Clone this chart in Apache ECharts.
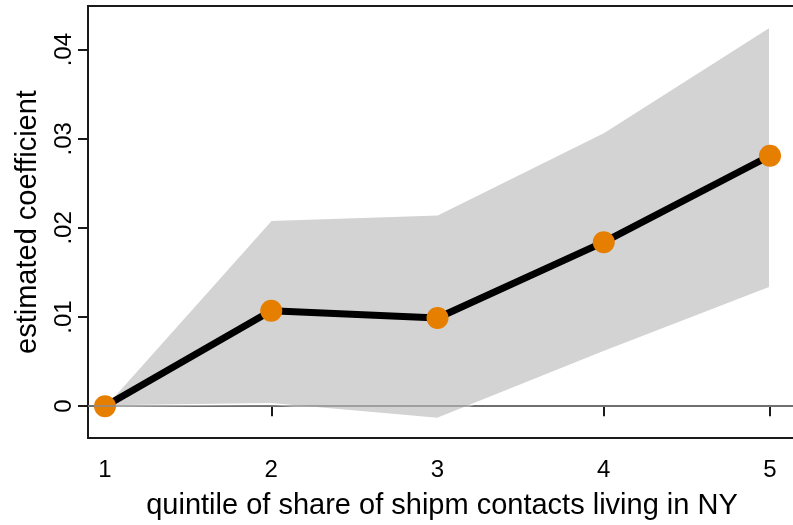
<!DOCTYPE html>
<html>
<head>
<meta charset="utf-8">
<script src="https://cdn.jsdelivr.net/npm/echarts@6/dist/echarts.min.js"></script>
<style>html,body{margin:0;padding:0;background:#fff;overflow:hidden}#c{width:800px;height:525px}</style>
</head>
<body>
<div id="c"></div>
<script>
const quintiles = [1, 2, 3, 4, 5];
const coef = [0, 0.0107, 0.0099, 0.0184, 0.0281];
const ciUpper = [0, 0.0209, 0.0215, 0.03075, 0.0426];
const ciLower = [0, 0.00025, -0.0014, 0.0061, 0.0133];
const yTicks = [0, 0.01, 0.02, 0.03, 0.04];
const xTicks = [1, 2, 3, 4, 5];

const FONT = 'Liberation Sans, Arial, sans-serif';
const chart = echarts.init(document.getElementById('c'));

const bandData = quintiles.map((q, i) => [q, ciLower[i], ciUpper[i]]);

chart.setOption({
  animation: false,
  grid: { left: 88, right: 4, top: 6, bottom: 84, show: true, borderColor: '#1a1a1a', borderWidth: 2, backgroundColor: '#fff' },
  xAxis: {
    type: 'value', min: 0.8977, max: 5.1564,
    name: 'quintile of share of shipm contacts living in NY',
    nameLocation: 'middle', nameGap: 53,
    nameTextStyle: { fontFamily: FONT, fontSize: 29, color: '#000' },
    axisLine: { show: true, lineStyle: { color: '#1a1a1a', width: 2 } },
    axisTick: { show: true, length: 10, lineStyle: { color: '#1a1a1a', width: 2 }, customValues: xTicks },
    axisLabel: { customValues: xTicks, fontFamily: FONT, fontSize: 24, color: '#000', margin: 20 },
    splitLine: { show: false }
  },
  yAxis: {
    type: 'value', min: -0.00357, max: 0.0449,
    name: 'estimated coefficient',
    nameLocation: 'middle', nameGap: 46,
    nameTextStyle: { fontFamily: FONT, fontSize: 29, color: '#000' },
    axisLine: { show: true, lineStyle: { color: '#1a1a1a', width: 2 } },
    axisTick: { show: true, length: 10, lineStyle: { color: '#1a1a1a', width: 2 }, customValues: yTicks },
    axisLabel: {
      customValues: yTicks, rotate: 90, fontFamily: FONT, fontSize: 24, color: '#000', margin: 12,
      formatter: v => v === 0 ? '0' : String(Math.round(v * 100) / 100).replace(/^0/, '')
    },
    splitLine: { show: false }
  },
  series: [
    {
      type: 'line', data: [], z: 1, silent: true,
      markLine: {
        silent: true, symbol: 'none', label: { show: false },
        lineStyle: { color: '#8c8c8c', width: 1.5, type: 'solid' },
        data: [{ yAxis: 0 }]
      }
    },
    {
      type: 'custom', z: 2, silent: true,
      data: bandData,
      renderItem: function (params, api) {
        if (params.dataIndex !== 0) return;
        const up = bandData.map(d => api.coord([d[0], d[2]]));
        const lo = bandData.map(d => api.coord([d[0], d[1]])).reverse();
        return {
          type: 'polygon',
          shape: { points: up.concat(lo) },
          style: { fill: '#d3d3d3', stroke: '#ffffff', lineWidth: 2 }
        };
      }
    },
    {
      type: 'line', z: 3,
      data: quintiles.map((q, i) => [q, coef[i]]),
      lineStyle: { color: '#000', width: 7 },
      symbol: 'circle', symbolSize: 22,
      itemStyle: { color: '#e67e00', borderWidth: 0 }
    }
  ]
});
</script>
</body>
</html>
